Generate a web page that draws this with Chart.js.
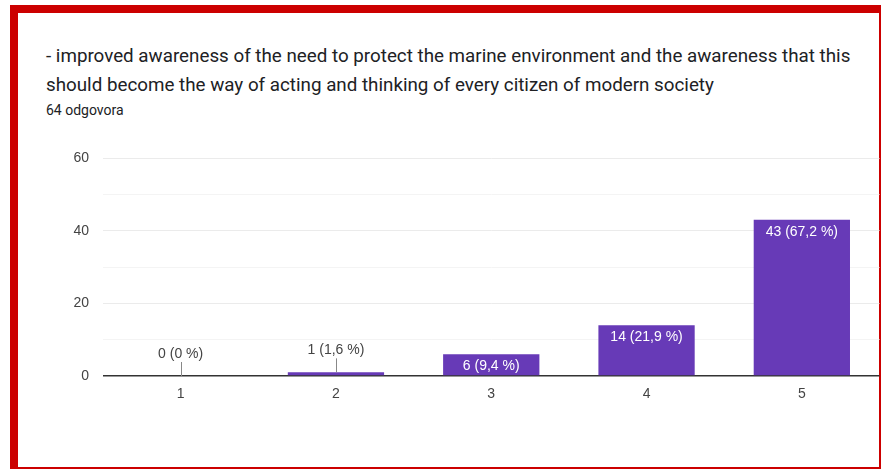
<!DOCTYPE html>
<html>
<head>
<meta charset="utf-8">
<script src="https://cdn.jsdelivr.net/npm/chart.js@4"></script>
<style>
  html,body{margin:0;padding:0;background:#fff;width:881px;height:469px;overflow:hidden;}
  #frame{position:absolute;left:10px;top:5px;width:861px;height:454px;border-left:8px solid #cc0000;border-top:8px solid #cc0000;border-right:2px solid #cc0000;border-bottom:2px solid #cc0000;box-sizing:content-box;}
  #title{position:absolute;left:46px;top:42px;width:820px;font-family:Roboto,sans-serif;font-size:18.8px;line-height:29px;color:#202124;}
  #sub{position:absolute;left:46px;top:102px;font-family:Roboto,sans-serif;font-size:14px;color:#202124;}
  #c{position:absolute;left:0;top:0;}
</style>
</head>
<body>
<div id="frame"></div>
<div id="title">- improved awareness of the need to protect the marine environment and the awareness that this should become the way of acting and thinking of every citizen of modern society</div>
<div id="sub">64 odgovora</div>
<canvas id="c" width="881" height="469"></canvas>
<script>
const categories = ["1", "2", "3", "4", "5"];
const counts = [0, 1, 6, 14, 43];
const percents = ["0 %", "1,6 %", "9,4 %", "21,9 %", "67,2 %"];
const yTickLabels = [0, 20, 40, 60];

const FONT = '"Liberation Sans", Arial, sans-serif';

const labelPlugin = {
  id: 'barLabels',
  afterDatasetsDraw(chart) {
    const ctx = chart.ctx;
    const meta = chart.getDatasetMeta(0);
    const y = chart.scales.y;
    ctx.save();
    ctx.font = '14px ' + FONT;
    ctx.textAlign = 'center';
    ctx.textBaseline = 'middle';
    meta.data.forEach((bar, i) => {
      const text = counts[i] + ' (' + percents[i] + ')';
      const base = y.getPixelForValue(0);
      const top = y.getPixelForValue(counts[i]);
      if (base - top >= 18) {
        ctx.fillStyle = '#ffffff';
        ctx.fillText(text, bar.x, top + 12);
      } else {
        ctx.fillStyle = '#444444';
        ctx.fillText(text, bar.x, top - 22);
        ctx.strokeStyle = '#888888';
        ctx.lineWidth = 1;
        ctx.beginPath();
        ctx.moveTo(Math.round(bar.x) + 0.5, top - 14);
        ctx.lineTo(Math.round(bar.x) + 0.5, top);
        ctx.stroke();
      }
    });
    ctx.restore();
  }
};

new Chart(document.getElementById('c'), {
  type: 'bar',
  data: {
    labels: categories,
    datasets: [{
      data: counts,
      backgroundColor: '#673ab7',
      borderWidth: 0,
      barPercentage: 0.62,
      categoryPercentage: 1.0
    }]
  },
  options: {
    responsive: false,
    animation: false,
    events: [],
    layout: { padding: { left: 54, top: 158, right: 1.5, bottom: 63 } },
    plugins: { legend: { display: false }, tooltip: { enabled: false } },
    scales: {
      x: {
        grid: { display: false, drawTicks: false },
        border: { display: false },
        ticks: { color: '#444', padding: 10, font: { family: FONT, size: 14 } },
        afterFit(s) { s.height = 30; }
      },
      y: {
        min: 0, max: 60,
        border: { display: false },
        grid: {
          drawTicks: false,
          color: c => c.tick.value === 0 ? '#333333' : (yTickLabels.includes(c.tick.value) ? '#ebebeb' : '#f4f4f4'),
          lineWidth: c => c.tick.value === 0 ? 1.5 : 1
        },
        ticks: {
          stepSize: 10,
          padding: 14,
          color: '#444',
          font: { family: FONT, size: 14 },
          callback: v => yTickLabels.includes(v) ? String(v) : ''
        },
        afterFit(s) { s.width = 49; }
      }
    }
  },
  plugins: [labelPlugin]
});
</script>
</body>
</html>
